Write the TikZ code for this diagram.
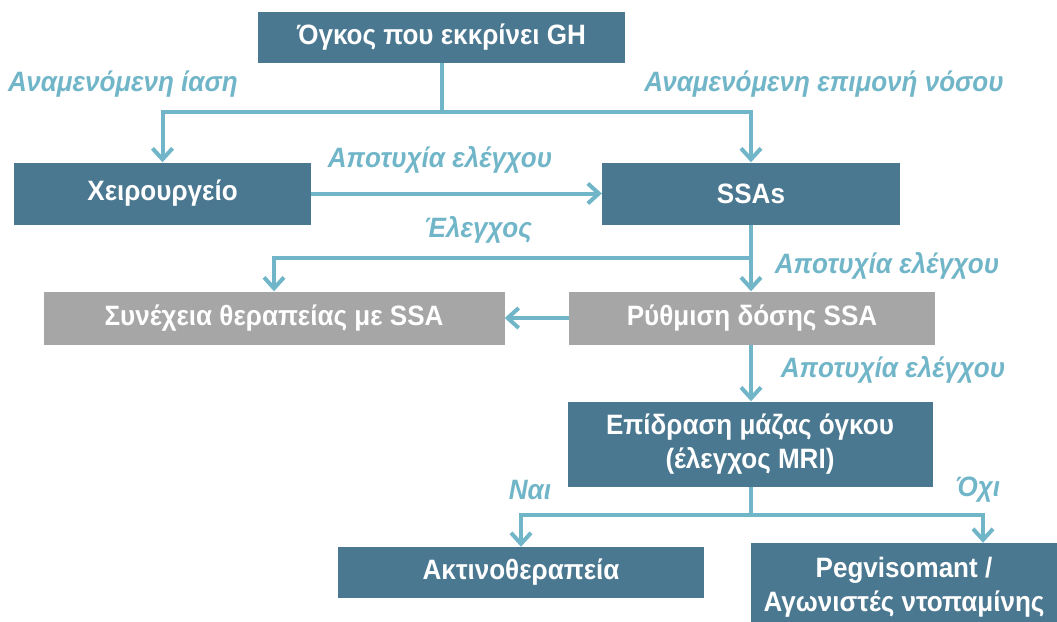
\documentclass[tikz,border=0pt]{standalone}
\usepackage{fontspec}
\setmainfont{Liberation Sans}[FakeStretch=0.93]
\usetikzlibrary{arrows.meta}
\definecolor{boxteal}{HTML}{4A7890}
\definecolor{boxgrey}{HTML}{A6A6A6}
\definecolor{flow}{HTML}{70B5C8}
\begin{document}
\begin{tikzpicture}[x=1pt,y=-1pt,
every node/.style={inner sep=0pt, font=\fontsize{28}{34}\selectfont\bfseries},
box/.style={fill=boxteal, text=white, align=center},
greybox/.style={box, fill=boxgrey},
lab/.style={text=flow, font=\fontsize{28}{34}\selectfont\bfseries\itshape},
line/.style={line width=4pt, draw=flow},
arr/.style={line, -{Straight Barb[length=11pt,width=20pt,line width=4pt]}}
]
\useasboundingbox (0,0) rectangle (1057,621);

% boxes
\node[box, minimum width=367pt, minimum height=51pt] at (441.5,37.5) (gh) {Όγκος που εκκρίνει GH};
\node[box, minimum width=297pt, minimum height=62pt] at (162.5,193.5) (surg) {Χειρουργείο};
\node[box, minimum width=298pt, minimum height=62pt] at (751,193.5) (ssa) {SSAs};
\node[greybox, minimum width=461pt, minimum height=53pt] at (274,318) (cont) {Συνέχεια θεραπείας με SSA};
\node[greybox, minimum width=366pt, minimum height=53pt] at (752,318) (dose) {Ρύθμιση δόσης SSA};
\node[box, minimum width=365pt, minimum height=85pt] at (750,444) (mass) {Επίδραση μάζας όγκου\\(έλεγχος MRI)};
\node[box, minimum width=366pt, minimum height=51pt] at (521,572.5) (radio) {Ακτινοθεραπεία};
\node[box, minimum width=306pt, minimum height=88pt] at (904,587) (peg) {Pegvisomant /\\Αγωνιστές ντοπαμίνης};

% labels
\node[lab] at (123,84) (cure) {Αναμενόμενη ίαση};
\node[lab] at (824,84) (persist) {Αναμενόμενη επιμονή νόσου};
\node[lab] at (440,160) (fail1) {Αποτυχία ελέγχου};
\node[lab] at (478,230) (ctrl) {Έλεγχος};
\node[lab] at (887,266) (fail2) {Αποτυχία ελέγχου};
\node[lab] at (893,370) (fail3) {Αποτυχία ελέγχου};
\node[lab] at (530,490) (yes) {Ναι};
\node[lab] at (978,490) (no) {Όχι};

% connectors
\coordinate (split1) at (441.5,112);
\coordinate (split2) at (751,258);
\coordinate (split3) at (751,515);
\draw[line] (gh.south) -- (split1);
\draw[arr] (split1) -| (surg.north);
\draw[arr] (split1) -| (ssa.north);
\draw[arr] (surg.east) -- (ssa.west);
\draw[line] (ssa.south) -- (split2);
\draw[arr] (split2) -| (cont.north);
\draw[arr] (split2) -- (split2 |- dose.north);
\draw[arr] (dose.west) -- (cont.east);
\draw[arr] (dose.south -| split2) -- (mass.north -| split2);
\draw[line] (mass.south -| split3) -- (split3);
\draw[arr] (split3) -| (radio.north);
\draw[arr] (split3) -| ([xshift=79pt]peg.north);

\end{tikzpicture}
\end{document}
